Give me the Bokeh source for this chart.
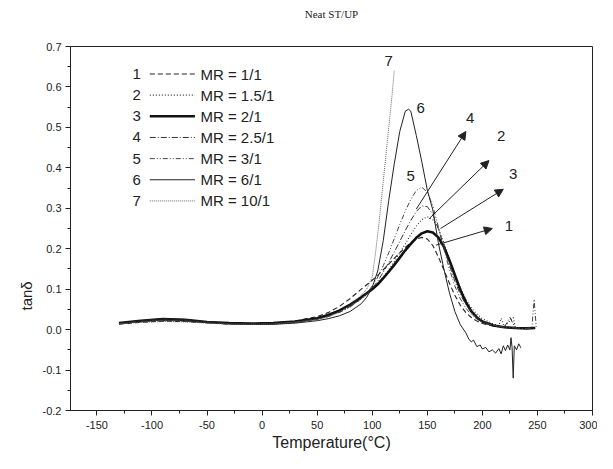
import math
from bokeh.plotting import figure
from bokeh.models import FixedTicker, PrintfTickFormatter, Title, Arrow, NormalHead, Range1d
from bokeh.core.properties import value
from bokeh.embed import file_html
from bokeh.resources import INLINE

# ---------------- data ----------------
mr_labels = ["MR = 1/1", "MR = 1.5/1", "MR = 2/1", "MR = 2.5/1", "MR = 3/1", "MR = 6/1", "MR = 10/1"]
curve_ids = ["1", "2", "3", "4", "5", "6", "7"]

base_T = [-130, -110, -90, -70, -50, -30, -10, 10, 30, 50, 60, 70, 80, 90, 95, 100]

T1 = base_T + [105, 110, 115, 120, 125, 130, 135, 140, 145, 150, 155, 160, 165, 170, 175, 180, 185, 190, 195, 200, 210, 220, 230, 240, 248]
tan1 = [0.014, 0.018, 0.021, 0.020, 0.017, 0.014, 0.014, 0.016, 0.021, 0.032, 0.042, 0.057, 0.077, 0.100, 0.111, 0.122,
        0.134, 0.148, 0.162, 0.176, 0.190, 0.203, 0.215, 0.224, 0.228, 0.224, 0.208, 0.180, 0.148, 0.115, 0.085, 0.060,
        0.042, 0.030, 0.021, 0.015, 0.009, 0.006, 0.004, 0.003, 0.003]

T2 = base_T + [105, 110, 115, 120, 125, 130, 135, 140, 145, 150, 155, 160, 165, 170, 175, 180, 185, 190, 195, 200, 210, 215, 217, 220, 228, 230, 240, 248]
tan2 = [0.015, 0.019, 0.022, 0.021, 0.017, 0.015, 0.014, 0.015, 0.019, 0.027, 0.034, 0.044, 0.058, 0.076, 0.087, 0.100,
        0.114, 0.130, 0.148, 0.168, 0.190, 0.212, 0.235, 0.256, 0.272, 0.279, 0.272, 0.250, 0.215, 0.175, 0.137, 0.103,
        0.075, 0.054, 0.038, 0.027, 0.014, 0.010, 0.028, 0.008, 0.030, 0.005, 0.004, 0.004]

T3 = base_T + [105, 110, 115, 120, 125, 130, 135, 140, 145, 150, 155, 160, 165, 170, 175, 180, 185, 190, 195, 200, 210, 220, 230, 240, 248]
tan3 = [0.016, 0.022, 0.026, 0.024, 0.019, 0.016, 0.015, 0.016, 0.020, 0.028, 0.036, 0.047, 0.062, 0.080, 0.090, 0.100,
        0.112, 0.127, 0.143, 0.160, 0.178, 0.196, 0.212, 0.227, 0.238, 0.243, 0.240, 0.228, 0.205, 0.172, 0.135, 0.098,
        0.068, 0.045, 0.030, 0.020, 0.010, 0.006, 0.004, 0.003, 0.004]

T4 = base_T + [105, 110, 115, 120, 125, 130, 135, 140, 145, 150, 155, 160, 165, 170, 175, 180, 185, 190, 195, 200, 210, 220, 225, 230, 240, 248]
tan4 = [0.015, 0.020, 0.024, 0.022, 0.018, 0.015, 0.014, 0.015, 0.019, 0.026, 0.033, 0.043, 0.057, 0.076, 0.088, 0.102,
        0.120, 0.142, 0.166, 0.192, 0.218, 0.245, 0.270, 0.292, 0.306, 0.304, 0.285, 0.250, 0.205, 0.160, 0.120, 0.087,
        0.062, 0.043, 0.030, 0.021, 0.011, 0.006, 0.030, 0.004, 0.003, 0.003]

T5 = base_T + [105, 110, 115, 120, 125, 130, 135, 140, 145, 150, 155, 160, 165, 170, 175, 180, 185, 190, 195, 200, 210, 220, 230, 240, 245, 247, 249]
tan5 = [0.015, 0.019, 0.023, 0.021, 0.017, 0.014, 0.013, 0.014, 0.018, 0.025, 0.032, 0.042, 0.056, 0.076, 0.090, 0.108,
        0.130, 0.158, 0.190, 0.225, 0.260, 0.293, 0.322, 0.344, 0.352, 0.340, 0.305, 0.255, 0.200, 0.150, 0.108, 0.076,
        0.053, 0.037, 0.026, 0.018, 0.010, 0.006, 0.004, 0.003, 0.005, 0.075, 0.002]

T6 = base_T + [105, 110, 115, 120, 125, 130, 133, 135, 140, 145, 150, 155, 160, 165, 170, 175, 180, 185, 188, 190, 192,
               195, 198, 200, 203, 206, 209, 212, 215, 217, 219, 221, 223, 225, 226, 227, 228, 229, 231, 233, 235]
tan6 = [0.016, 0.022, 0.027, 0.025, 0.019, 0.015, 0.013, 0.013, 0.016, 0.022, 0.027, 0.034, 0.045, 0.064, 0.080, 0.105,
        0.145, 0.220, 0.320, 0.410, 0.490, 0.540, 0.545, 0.540, 0.480, 0.415, 0.345, 0.296, 0.215, 0.150, 0.092, 0.045,
        0.012, -0.008, -0.025, -0.030, -0.026, -0.042, -0.038, -0.048, -0.044, -0.055, -0.050, -0.058, -0.047, -0.060,
        -0.040, -0.052, -0.038, -0.050, -0.020, -0.045, -0.120, -0.040, -0.050, -0.035, -0.045]

T7 = base_T + [103, 106, 109, 112, 115, 118, 120]
tan7 = [0.014, 0.018, 0.020, 0.019, 0.016, 0.014, 0.013, 0.014, 0.018, 0.025, 0.032, 0.044, 0.060, 0.085, 0.100, 0.130,
        0.190, 0.260, 0.340, 0.420, 0.500, 0.580, 0.640]

# annotation callouts and arrows
callout_ids = ["1", "2", "3", "4", "5", "6", "7"]
callout_x = [224, 217, 228, 189, 135, 144, 115]
callout_y = [0.255, 0.478, 0.385, 0.522, 0.381, 0.549, 0.665]
arrow_x0 = [158, 151.6, 162, 140]
arrow_y0 = [0.209, 0.274, 0.250, 0.298]
arrow_x1 = [209, 206, 219, 185]
arrow_y1 = [0.250, 0.418, 0.347, 0.490]

x_ticks = [-150, -100, -50, 0, 50, 100, 150, 200, 250, 300]
y_ticks = [-0.2, -0.1, 0.0, 0.1, 0.2, 0.3, 0.4, 0.5, 0.6, 0.7]

# ---------------- figure ----------------
p = figure(width=597, height=453, output_backend="svg", toolbar_location=None,
           x_range=Range1d(-174, 300), y_range=Range1d(-0.2, 0.7),
           min_border_left=70, min_border_right=5, min_border_top=43, min_border_bottom=43)
p.title = None

# spacer title to lift the real title away from the frame
p.add_layout(Title(text=" ", text_font_size="9px"), "above")
p.add_layout(Title(text="Neat ST/UP", align="center", text_font="Liberation Serif",
                   text_font_size="11px", text_font_style="normal", text_color="#222222"), "above")

p.grid.visible = False
p.outline_line_color = "#222222"
p.outline_line_width = 1
p.background_fill_color = "white"
p.border_fill_color = "white"

for ax in (p.xaxis[0], p.yaxis[0]):
    ax.axis_line_color = "#222222"
    ax.major_tick_line_color = "#222222"
    ax.minor_tick_line_color = "#222222"
    ax.major_tick_in = 0
    ax.major_tick_out = 5
    ax.minor_tick_in = 0
    ax.minor_tick_out = 3
    ax.major_label_text_font = "Liberation Sans"
    ax.major_label_text_font_size = "11px"
    ax.major_label_text_color = "#222222"

minor_x = [t + 25 for t in x_ticks[:-1]]
minor_y = [round(t + 0.05, 2) for t in y_ticks[:-1]]
p.xaxis.ticker = FixedTicker(ticks=x_ticks, minor_ticks=minor_x)
p.yaxis.ticker = FixedTicker(ticks=y_ticks, minor_ticks=minor_y)
p.xaxis.formatter = PrintfTickFormatter(format="%d")
p.yaxis.formatter = PrintfTickFormatter(format="%.1f")
p.xaxis.major_label_standoff = 5
p.yaxis.major_label_standoff = 4

p.xaxis.axis_label = "Temperature(°C)"
p.xaxis.axis_label_text_font = "Liberation Sans"
p.xaxis.axis_label_text_font_size = "16px"
p.xaxis.axis_label_text_font_style = "normal"
p.xaxis.axis_label_text_color = "#222222"
p.xaxis.axis_label_standoff = 2

p.add_layout(Title(text="tanδ", align="left", offset=100, text_font="Liberation Sans",
                   text_font_size="15px", text_font_style="normal", text_color="#222222"), "left")

styles = [
    dict(line_dash="5 3", line_width=1.1, line_color="#222222"),
    dict(line_dash="1 2", line_width=1.1, line_color="#333333"),
    dict(line_dash="solid", line_width=2.6, line_color="#111111"),
    dict(line_dash="6 2 1 2", line_width=1.0, line_color="#333333"),
    dict(line_dash="5 2 1 2 1 2", line_width=1.0, line_color="#444444"),
    dict(line_dash="solid", line_width=1.0, line_color="#222222"),
    dict(line_dash="1 1", line_width=0.9, line_color="#555555"),
]
series = [(T1, tan1), (T2, tan2), (T3, tan3), (T4, tan4), (T5, tan5), (T6, tan6), (T7, tan7)]
for (xs, ys), st in zip(series, styles):
    p.line(xs, ys, **st)

# legend drawn by hand
leg_num_x, leg_line_x0, leg_line_x1, leg_text_x = -114, -102, -61, -56
leg_y0, leg_dy = 0.632, 0.0523
for i, (cid, lab, st) in enumerate(zip(curve_ids, mr_labels, styles)):
    yy = leg_y0 - i * leg_dy
    p.line([leg_line_x0, leg_line_x1], [yy, yy], **st)
    p.text(x=[leg_num_x], y=[yy], text=[cid], text_font=value("Liberation Sans"),
           text_font_size="15px", text_align="center", text_baseline="middle", text_color="#222222")
    p.text(x=[leg_text_x], y=[yy], text=[lab], text_font=value("Liberation Sans"),
           text_font_size="15px", text_align="left", text_baseline="middle", text_color="#222222")

# callout numbers and arrows
p.text(x=callout_x, y=callout_y, text=callout_ids, text_font=value("Liberation Sans"),
       text_font_size="15px", text_align="center", text_baseline="middle", text_color="#222222")
for x0, y0, x1, y1 in zip(arrow_x0, arrow_y0, arrow_x1, arrow_y1):
    p.add_layout(Arrow(end=NormalHead(size=8, fill_color="#222222", line_color="#222222"),
                       x_start=x0, y_start=y0, x_end=x1, y_end=y1,
                       line_color="#222222", line_width=1))

open("out.html", "w").write(file_html(p, INLINE))
